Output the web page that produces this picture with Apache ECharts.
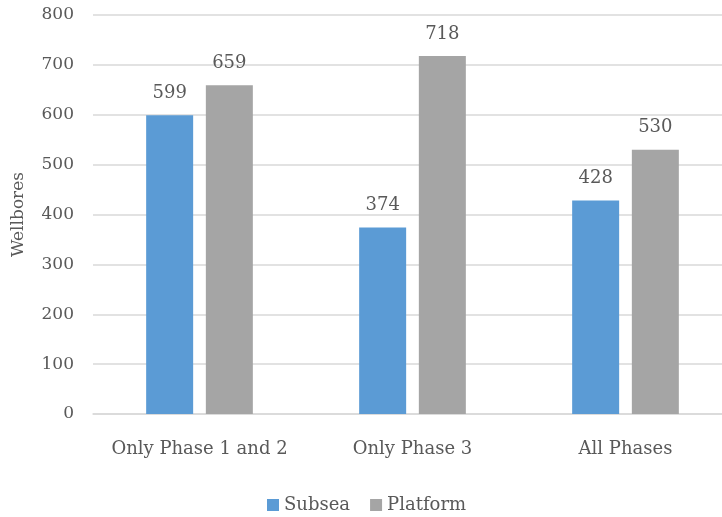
<!DOCTYPE html>
<html>
<head>
<meta charset="utf-8">
<script src="https://cdn.jsdelivr.net/npm/echarts@6/dist/echarts.min.js"></script>
<style>
html,body{margin:0;padding:0;background:#fff;}
#chart{width:722px;height:517px;}
</style>
</head>
<body>
<div id="chart"></div>
<script>
var categories = ['Only Phase 1 and 2', 'Only Phase 3', 'All Phases'];
var subsea = [599, 374, 428];
var platform = [659, 718, 530];
var yTicks = [0, 800, 100];

var font = '"DejaVu Serif", "Liberation Serif", serif';
var txt = '#595959';

var myChart = echarts.init(document.getElementById('chart'));
myChart.setOption({
    animation: false,
    grid: {left: 93, width: 639, top: 15, height: 399, containLabel: false, outerBoundsMode: 'none'},
    legend: {
        bottom: -2,
        left: 262,
        itemWidth: 12,
        itemHeight: 12,
        itemGap: 20,
        icon: 'rect',
        textStyle: {fontFamily: font, fontSize: 18, color: txt},
        data: ['Subsea', 'Platform']
    },
    xAxis: {
        type: 'category',
        data: categories,
        axisTick: {show: false},
        axisLine: {lineStyle: {color: '#d9d9d9', width: 1.5}},
        axisLabel: {fontFamily: font, fontSize: 18, color: txt, margin: 26, interval: 0}
    },
    yAxis: {
        type: 'value',
        min: yTicks[0],
        max: yTicks[1],
        interval: yTicks[2],
        name: 'Wellbores',
        nameLocation: 'middle',
        nameGap: 66,
        nameTextStyle: {fontFamily: font, fontSize: 17, color: txt},
        axisLine: {show: false},
        axisTick: {show: false},
        splitLine: {lineStyle: {color: '#d9d9d9', width: 1.5}},
        axisLabel: {fontFamily: font, fontSize: 17, color: txt, margin: 19}
    },
    series: [{
        name: 'Subsea',
        type: 'bar',
        data: subsea,
        barWidth: 47,
        barGap: '27%',
        itemStyle: {color: '#5b9bd5'},
        label: {show: true, position: 'top', distance: 13, fontFamily: font, fontSize: 18, color: txt}
    }, {
        name: 'Platform',
        type: 'bar',
        data: platform,
        barWidth: 47,
        itemStyle: {color: '#a5a5a5'},
        label: {show: true, position: 'top', distance: 13, fontFamily: font, fontSize: 18, color: txt}
    }]
});
</script>
</body>
</html>
